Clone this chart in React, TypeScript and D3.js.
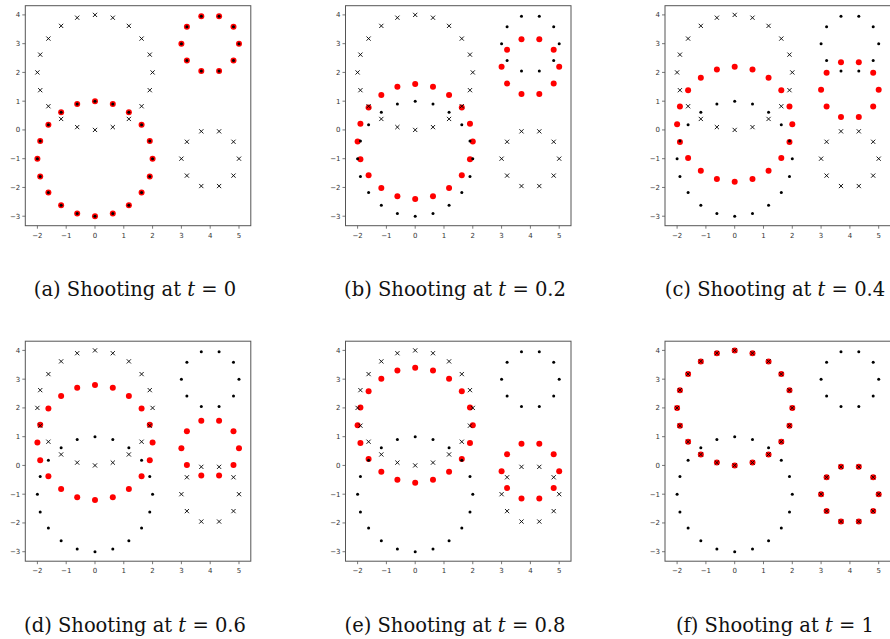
import React from "react";
import * as d3 from "d3";

// Offsets of the 20 points of the large ring (radius 2) from its centre
const bigDX = [2, 1.902, 1.618, 1.176, 0.618, 0, -0.618, -1.176, -1.618, -1.902, -2, -1.902, -1.618, -1.176, -0.618, 0, 0.618, 1.176, 1.618, 1.902];
const bigDY = [0, 0.618, 1.176, 1.618, 1.902, 2, 1.902, 1.618, 1.176, 0.618, 0, -0.618, -1.176, -1.618, -1.902, -2, -1.902, -1.618, -1.176, -0.618];
// Offsets of the 10 points of the small ring (radius 1) from its centre
const smallDX = [1, 0.809, 0.309, -0.309, -0.809, -1, -0.809, -0.309, 0.309, 0.809];
const smallDY = [0, 0.588, 0.951, 0.951, 0.588, 0, -0.588, -0.951, -0.951, -0.588];

// Ring centres
const sourceBig = [0, -1];
const sourceSmall = [4, 3];
const targetBig = [0, 2];
const targetSmall = [4, -1];

// Shot (red) ring centres per panel
const panelLetters = ["a", "b", "c", "d", "e", "f"];
const panelT = ["0", "0.2", "0.4", "0.6", "0.8", "1"];
const shotBigY = [-1, -0.4, 0.2, 0.8, 1.4, 2];
const shotSmallY = [3, 2.2, 1.4, 0.6, -0.2, -1];

const xTicks = [-2, -1, 0, 1, 2, 3, 4, 5];
const yTicks = [-3, -2, -1, 0, 1, 2, 3, 4];

const colLeft = [25.3, 345.5, 665];
const rowTop = [5.7, 341.2];
const captionX = [135, 455, 775];
const captionBase = [296, 631.5];
const W = 225.5;
const H = 220;

function ring(cx: number, cy: number, dx: number[], dy: number[]) {
  return dx.map((d, i) => [cx + d, cy + dy[i]]);
}

function fmt(v: number) {
  return v < 0 ? "\u2212" + Math.abs(v) : String(v);
}

function Panel({ idx }: { idx: number }) {
  const col = idx % 3;
  const row = Math.floor(idx / 3);
  const left = colLeft[col];
  const top = rowTop[row];
  const x = d3.scaleLinear().domain([-2.42, 5.41]).range([left, left + W]);
  const y = d3.scaleLinear().domain([-3.33, 4.32]).range([top + H, top]);

  const src = [...ring(sourceBig[0], sourceBig[1], bigDX, bigDY), ...ring(sourceSmall[0], sourceSmall[1], smallDX, smallDY)];
  const tgt = [...ring(targetBig[0], targetBig[1], bigDX, bigDY), ...ring(targetSmall[0], targetSmall[1], smallDX, smallDY)];
  const shot = [...ring(0, shotBigY[idx], bigDX, bigDY), ...ring(4, shotSmallY[idx], smallDX, smallDY)];
  const s = 2.1;

  return (
    <g>
      <g clipPath="none">
        {shot.map((p, i) => (
          <circle key={"r" + i} cx={x(p[0])} cy={y(p[1])} r={3} fill="#ff0000" />
        ))}
        {src.map((p, i) => (
          <circle key={"s" + i} cx={x(p[0])} cy={y(p[1])} r={1.5} fill="#000" />
        ))}
        {tgt.map((p, i) => (
          <path
            key={"t" + i}
            d={`M${x(p[0]) - s},${y(p[1]) - s}L${x(p[0]) + s},${y(p[1]) + s}M${x(p[0]) - s},${y(p[1]) + s}L${x(p[0]) + s},${y(p[1]) - s}`}
            stroke="#000"
            strokeWidth={0.9}
            fill="none"
          />
        ))}
      </g>
      <rect x={left} y={top} width={W} height={H} fill="none" stroke="#555" strokeWidth={1} />
      {xTicks.map((t) => (
        <g key={"xt" + t}>
          <line x1={x(t)} x2={x(t)} y1={top + H} y2={top + H + 3} stroke="#555" strokeWidth={0.8} />
          <text x={x(t)} y={top + H + 12} fontSize={7} textAnchor="middle" fill="#333" fontFamily="DejaVu Sans">
            {fmt(t)}
          </text>
        </g>
      ))}
      {yTicks.map((t) => (
        <g key={"yt" + t}>
          <line x1={left - 3} x2={left} y1={y(t)} y2={y(t)} stroke="#555" strokeWidth={0.8} />
          <text x={left - 5} y={y(t) + 2.5} fontSize={7} textAnchor="end" fill="#333" fontFamily="DejaVu Sans">
            {fmt(t)}
          </text>
        </g>
      ))}
      <text x={captionX[col]} y={captionBase[row]} fontSize={19.5} textAnchor="middle" fill="#111" fontFamily="DejaVu Serif">
        <tspan>{`(${panelLetters[idx]}) Shooting at `}</tspan>
        <tspan fontStyle="italic">t</tspan>
        <tspan>{` = ${panelT[idx]}`}</tspan>
      </text>
    </g>
  );
}

export default function App() {
  return (
    <svg width={890} height={639} style={{ position: "fixed", left: 0, top: 0, background: "#fff" }}>
      <rect width={890} height={639} fill="#fff" />
      {[0, 1, 2, 3, 4, 5].map((i) => (
        <Panel key={i} idx={i} />
      ))}
    </svg>
  );
}
